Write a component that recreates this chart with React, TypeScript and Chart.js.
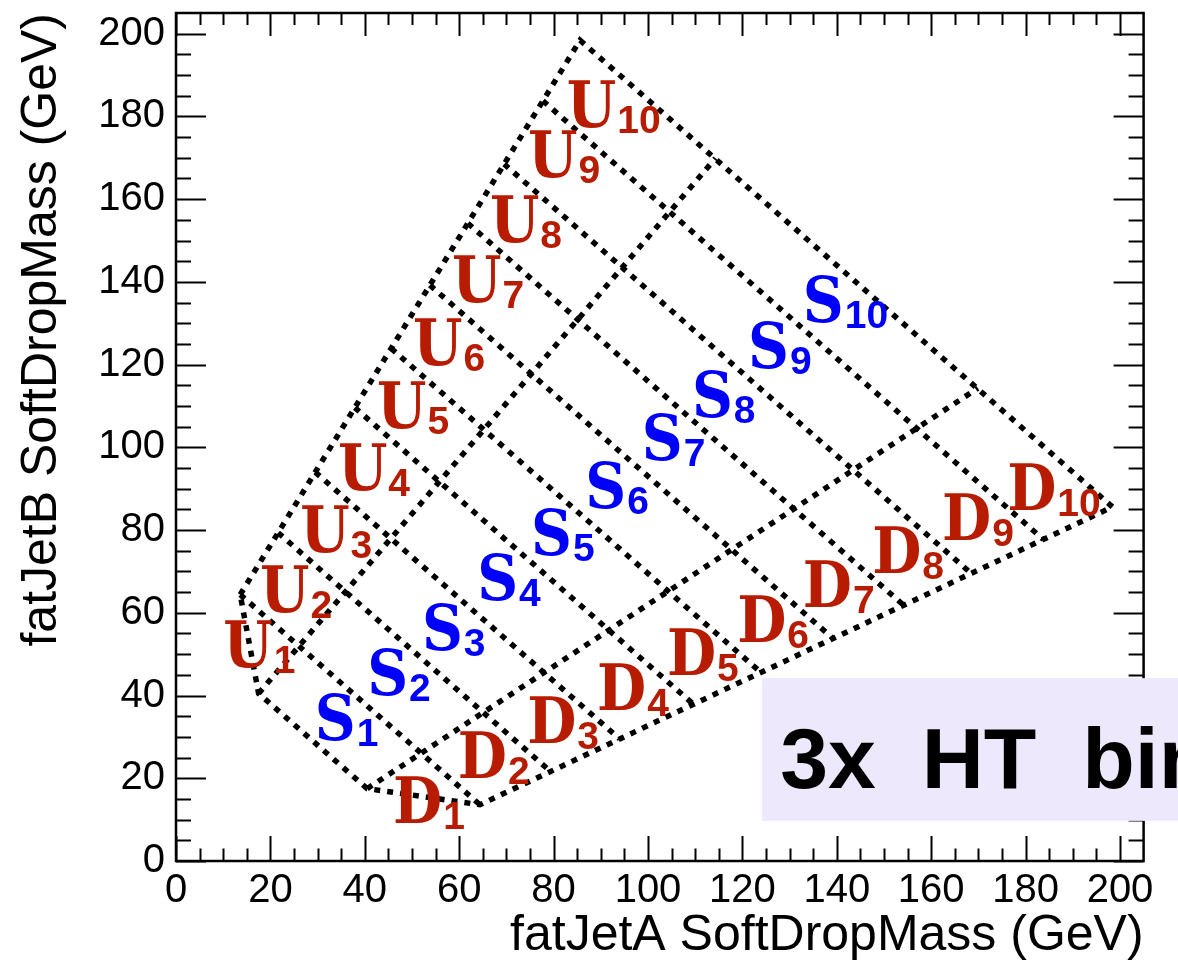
import { useEffect, useRef } from 'react';
import { Chart, registerables } from 'chart.js';

Chart.register(...registerables);

// Axis ranges (GeV)
const axisMax = 205;
const majorStep = 20;
const minorStep = 5;

// Outer boundary of the binned region: corners in (fatJetA, fatJetB) mass, closed polygon
const outlineX = [13.6, 85.6, 198.4, 64.4, 40.5, 17.5, 13.6];
const outlineY = [64.4, 198.4, 85.6, 13.6, 17.5, 40.5, 64.4];

// Separator between the U and S bands, and between the S and D bands
const usLineX = [17.5, 114.3];
const usLineY = [40.5, 169.9];
const sdLineX = [40.5, 169.9];
const sdLineY = [17.5, 114.3];

// Mass-sum (mA + mB) edges between consecutive bins 1..10
const binEdgeSums = [78, 101, 123.5, 147.5, 169.5, 193, 216, 238, 261.5];

// Region labels: anchor at letter's left edge / baseline (GeV)
const binNumbers = ['1', '2', '3', '4', '5', '6', '7', '8', '9', '10'];
const uLabelX = [10.0, 17.8, 26.3, 34.3, 42.6, 50.2, 58.5, 66.5, 74.6, 82.8];
const uLabelY = [46.9, 60.2, 74.7, 89.6, 104.6, 119.9, 135.1, 149.6, 165.3, 177.4];
const sLabelX = [29.4, 40.5, 52.1, 63.8, 75.2, 86.7, 98.7, 109.3, 121.2, 132.8];
const sLabelY = [29.2, 40.1, 51.0, 63.1, 73.9, 85.3, 96.9, 107.3, 119.1, 130.3];
const dLabelX = [46.0, 59.7, 74.4, 89.2, 104.0, 118.9, 132.8, 147.5, 162.3, 176.1];
const dLabelY = [9.2, 20.1, 28.5, 36.5, 44.9, 52.9, 61.4, 69.6, 77.6, 84.8];

// Category tag in the lower right
const tagText = '3x HT bin';
const tagBoxX = [124.2, 215];
const tagBoxY = [9.7, 44.2];
const tagTextX = 128.0;
const tagTextY = 17.6;

const RED = 'rgb(183,27,0)';
const BLUE = 'rgb(0,0,250)';
const AXIS_FONT = "'Liberation Sans', Arial, Helvetica, sans-serif";
const LETTER_FONT = "'DejaVu Serif Condensed', 'DejaVu Serif', serif";
const SUB_FONT = "'Liberation Sans', Arial, sans-serif";

function toPoints(xs: number[], ys: number[]) {
  return xs.map((x, i) => ({ x, y: ys[i] }));
}

// Diagonal bin edge x+y = s between the upper-left and lower-right boundary edges
function diagonalPoints(s: number) {
  const sumLo = outlineX[0] + outlineY[0];
  const sumHi = outlineX[1] + outlineY[1];
  const t = (s - sumLo) / (sumHi - sumLo);
  const ux = outlineX[0] + t * (outlineX[1] - outlineX[0]);
  const uy = outlineY[0] + t * (outlineY[1] - outlineY[0]);
  const lx = outlineX[3] + t * (outlineX[2] - outlineX[3]);
  const ly = outlineY[3] + t * (outlineY[2] - outlineY[3]);
  return [{ x: ux, y: uy }, { x: lx, y: ly }];
}

const dotted = {
  showLine: true,
  borderColor: '#000',
  borderWidth: 5.5,
  borderDash: [6, 7],
  borderCapStyle: 'butt' as const,
  pointRadius: 0,
  fill: false,
  tension: 0,
};

const overlayPlugin = {
  id: 'regionOverlay',
  afterDatasetsDraw(chart: any) {
    const { ctx, scales } = chart;
    const xs = scales.x;
    const ys = scales.y;
    const groups = [
      { letter: 'U', color: RED, lx: uLabelX, ly: uLabelY },
      { letter: 'S', color: BLUE, lx: sLabelX, ly: sLabelY },
      { letter: 'D', color: RED, lx: dLabelX, ly: dLabelY },
    ];
    ctx.save();
    ctx.textAlign = 'left';
    ctx.textBaseline = 'alphabetic';
    for (const g of groups) {
      ctx.fillStyle = g.color;
      g.lx.forEach((vx, i) => {
        const px = xs.getPixelForValue(vx);
        const py = ys.getPixelForValue(g.ly[i]);
        ctx.font = `bold 63px ${LETTER_FONT}`;
        ctx.fillText(g.letter, px, py);
        const w = ctx.measureText(g.letter).width;
        ctx.font = `bold 39px ${SUB_FONT}`;
        ctx.fillText(binNumbers[i], px + w + 1, py + 6);
      });
    }
    ctx.restore();
  },
  afterDraw(chart: any) {
    const { ctx, chartArea: a, scales } = chart;
    const xs = scales.x;
    const ys = scales.y;
    ctx.save();
    ctx.strokeStyle = '#000';
    ctx.lineWidth = 2;
    ctx.beginPath();
    for (let v = 0; v <= 200; v += minorStep) {
      const major = v % majorStep === 0;
      const px = Math.round(xs.getPixelForValue(v)) + 0.5;
      ctx.moveTo(px, a.bottom);
      ctx.lineTo(px, a.bottom - (major ? 25 : 12.5));
      ctx.moveTo(px, a.top);
      ctx.lineTo(px, a.top + (major ? 23 : 12));
      const py = Math.round(ys.getPixelForValue(v)) + 0.5;
      const ly = major ? 30 : 15;
      ctx.moveTo(a.left, py);
      ctx.lineTo(a.left + ly, py);
      ctx.moveTo(a.right, py);
      ctx.lineTo(a.right - ly, py);
    }
    ctx.stroke();
    ctx.lineWidth = 2.5;
    ctx.strokeRect(a.left, a.top, a.right - a.left, a.bottom - a.top);

    // tag box on top of everything
    const bx0 = xs.getPixelForValue(tagBoxX[0]);
    const bx1 = Math.min(xs.getPixelForValue(tagBoxX[1]), chart.width);
    const by0 = ys.getPixelForValue(tagBoxY[1]);
    const by1 = ys.getPixelForValue(tagBoxY[0]);
    ctx.fillStyle = 'rgb(238,232,252)';
    ctx.fillRect(bx0, by0, bx1 - bx0, by1 - by0);
    ctx.fillStyle = '#000';
    ctx.font = `bold 86px 'Liberation Sans', Arial, sans-serif`;
    (ctx as any).wordSpacing = '22px';
    ctx.textAlign = 'left';
    ctx.textBaseline = 'alphabetic';
    ctx.fillText(tagText, xs.getPixelForValue(tagTextX), ys.getPixelForValue(tagTextY));
    ctx.restore();
  },
};

export default function App() {
  const canvasRef = useRef<HTMLCanvasElement | null>(null);

  useEffect(() => {
    if (!canvasRef.current) return;
    const datasets: any[] = [
      { ...dotted, label: 'boundary', data: toPoints(outlineX, outlineY) },
      { ...dotted, label: 'U/S', data: toPoints(usLineX, usLineY) },
      { ...dotted, label: 'S/D', data: toPoints(sdLineX, sdLineY) },
      ...binEdgeSums.map((s, i) => ({ ...dotted, label: `edge ${i + 1}`, data: diagonalPoints(s) })),
    ];
    const chart = new Chart(canvasRef.current, {
      type: 'scatter',
      data: { datasets },
      plugins: [overlayPlugin],
      options: {
        animation: false,
        responsive: false,
        devicePixelRatio: 1,
        layout: { padding: { top: 13, right: 1178 - 1143.6, left: 0, bottom: 0 } },
        plugins: { legend: { display: false }, tooltip: { enabled: false } },
        scales: {
          x: {
            type: 'linear',
            min: 0,
            max: axisMax,
            grid: { display: false, drawTicks: false },
            border: { display: false },
            ticks: {
              stepSize: majorStep,
              includeBounds: false,
              autoSkip: false,
              maxRotation: 0,
              padding: 6,
              color: '#000',
              font: { family: AXIS_FONT, size: 40 },
            },
            title: {
              display: true,
              text: 'fatJetA SoftDropMass (GeV)',
              align: 'end',
              color: '#000',
              font: { family: AXIS_FONT, size: 50 },
              padding: { top: 0, bottom: 8 },
            },
            afterFit: (s: any) => {
              s.height = 113;
              s.paddingLeft = 0;
              s.paddingRight = 0;
            },
          },
          y: {
            type: 'linear',
            min: 0,
            max: axisMax,
            grid: { display: false, drawTicks: false },
            border: { display: false },
            ticks: {
              stepSize: majorStep,
              includeBounds: false,
              autoSkip: false,
              padding: 11,
              color: '#000',
              font: { family: AXIS_FONT, size: 40 },
            },
            title: {
              display: true,
              text: 'fatJetB SoftDropMass (GeV)',
              align: 'end',
              color: '#000',
              font: { family: AXIS_FONT, size: 50 },
              padding: { top: 12, bottom: 0 },
            },
            afterFit: (s: any) => {
              s.width = 176;
              s.paddingTop = 0;
              s.paddingBottom = 0;
            },
          },
        },
      },
    } as any);
    return () => chart.destroy();
  }, []);

  return (
    <div style={{ position: 'absolute', left: 0, top: 0, width: 1178, height: 974, background: '#fff' }}>
      <canvas ref={canvasRef} width={1178} height={974} style={{ display: 'block' }} />
    </div>
  );
}
